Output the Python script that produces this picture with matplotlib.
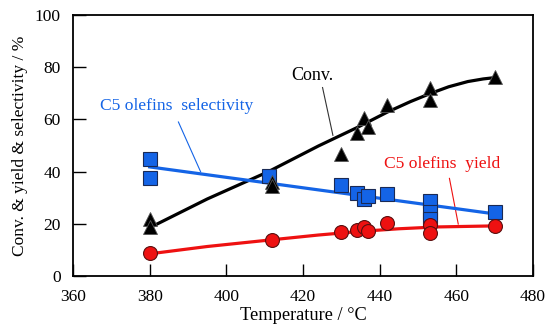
#!/usr/bin/env python3
"""Conversion, C5 olefins yield and selectivity vs. temperature."""

import matplotlib
matplotlib.use('Agg')
import matplotlib.pyplot as plt

conv_temp = [380, 380, 412, 412, 430, 434, 436, 437, 442, 453, 453, 470]
conv_vals = [21.8, 18.7, 35.9, 34.4, 46.6, 54.6, 60.7, 56.9, 65.6, 72.1, 67.6, 76.3]

sel_temp = [380, 380, 411, 430, 434, 436, 437, 442, 453, 453, 453, 470]
sel_vals = [44.7, 37.7, 38.5, 34.7, 31.7, 29.4, 30.6, 31.3, 28.7, 24.4, 22.0, 24.4]

yield_temp = [380, 412, 430, 434, 436, 437, 442, 453, 453, 470]
yield_vals = [8.7, 13.9, 16.7, 17.7, 18.7, 17.3, 20.5, 19.6, 16.4, 19.2]

# Fitted trend lines
conv_fit_temp = [380, 395, 411, 424, 434, 442, 448, 453, 458, 463, 467, 470]
conv_fit_vals = [18.5, 29.5, 40.0, 49.8, 56.8, 62.8, 66.8, 69.8, 72.5, 74.5, 75.5, 76.0]

sel_fit_temp = [380, 470]
sel_fit_vals = [41.8, 23.8]

yield_fit_temp = [380, 395, 412, 424, 435, 445, 455, 470]
yield_fit_vals = [8.5, 11.3, 13.9, 15.7, 17.1, 18.1, 18.8, 19.2]

BLUE = '#1464e6'
RED = '#ee1111'

plt.rcParams['font.family'] = ['Liberation Serif', 'DejaVu Serif']

fig = plt.figure(figsize=(5.46, 3.28), dpi=100)
ax = fig.add_axes([0.1337, 0.1585, 0.8425, 0.7958])

# Trend lines
ax.plot(conv_fit_temp, conv_fit_vals, '-', color='black', linewidth=2.3,
        solid_joinstyle='round', zorder=2)
ax.plot(sel_fit_temp, sel_fit_vals, '-', color=BLUE, linewidth=2.3, zorder=2)
ax.plot(yield_fit_temp, yield_fit_vals, '-', color=RED, linewidth=2.3,
        solid_joinstyle='round', zorder=2)

# Data markers
ax.plot(sel_temp, sel_vals, 's', markersize=9.5, color=BLUE,
        markeredgecolor='#1a2a55', markeredgewidth=0.8, zorder=3)
ax.plot(conv_temp, conv_vals, '^', markersize=9.5, color='black',
        markeredgecolor='#555555', markeredgewidth=0.6, zorder=4)
ax.plot(yield_temp, yield_vals, 'o', markersize=10, color=RED,
        markeredgecolor='#5a1010', markeredgewidth=0.8, zorder=5)

# Labels with leader lines
ax.text(422.3, 76.9, 'Conv.', ha='center', va='center', fontsize=13, color='black')
ax.plot([425.1, 427.8], [72.2, 53.9], color='#333333', linewidth=0.8, zorder=1)

ax.text(367.0, 65.0, 'C5 olefins  selectivity', ha='left', va='center',
        fontsize=12.6, color=BLUE)
ax.plot([387.5, 393.3], [59.0, 39.9], color=BLUE, linewidth=0.8, zorder=1)

ax.text(456.4, 42.8, 'C5 olefins  yield', ha='center', va='center',
        fontsize=12.6, color=RED)
ax.plot([458.2, 460.5], [37.4, 19.9], color=RED, linewidth=0.8, zorder=1)

ax.set_xlim(360, 480)
ax.set_ylim(0, 100)
ax.set_xticks(range(360, 481, 20))
ax.set_yticks(range(0, 101, 20))
ax.tick_params(direction='in', length=9, width=1, pad=9, labelsize=12.5)
ax.set_xlabel('Temperature / °C', fontsize=13.2, labelpad=2)
ax.set_ylabel('Conv. & yield & selectivity / %', fontsize=12.5, labelpad=5)
for spine in ax.spines.values():
    spine.set_linewidth(1.3)

fig.savefig('out.png', dpi=100)
